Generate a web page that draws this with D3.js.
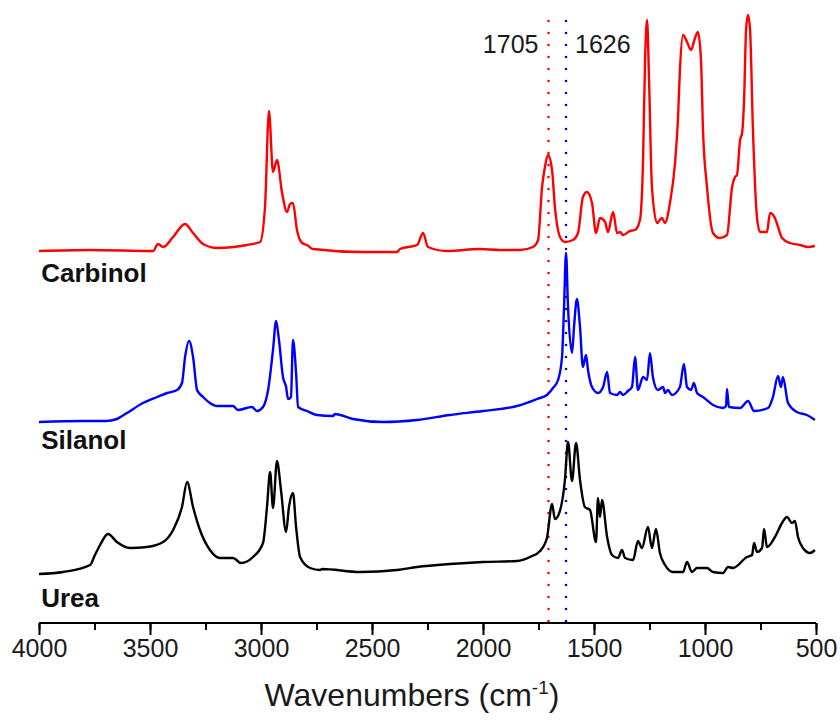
<!DOCTYPE html>
<html>
<head>
<meta charset="utf-8">
<script src="https://cdn.jsdelivr.net/npm/d3@7"></script>
<style>
  html, body { margin: 0; padding: 0; background: #fff; }
  svg { display: block; }
</style>
</head>
<body>
<div id="chart"></div>
<script>
// FTIR spectra, stacked with an offset. Values are absorbance (a.u.).
const names = ["Carbinol", "Silanol", "Urea"];
const colors = ["#ff0000", "#0000ff", "#000000"];
const offsets = [3.72, 2.0, 0.48];

const carbinolWn = [4000, 3770, 3486, 3464, 3441, 3396, 3342, 3306, 3261, 3198, 3063, 3004, 2982, 2964, 2946, 2928, 2905, 2883, 2869, 2856, 2838, 2815, 2793, 2766, 2541, 2387, 2374, 2297, 2270, 2248, 2162, 2014, 1923, 1833, 1775, 1752, 1734, 1721, 1707, 1689, 1676, 1653, 1631, 1595, 1572, 1550, 1532, 1509, 1491, 1473, 1450, 1437, 1414, 1396, 1383, 1369, 1338, 1315, 1293, 1279, 1270, 1261, 1252, 1239, 1216, 1194, 1180, 1158, 1135, 1122, 1113, 1099, 1081, 1063, 1045, 1032, 1018, 1009, 991, 964, 933, 901, 878, 865, 856, 842, 833, 824, 815, 806, 797, 784, 766, 752, 721, 707, 685, 671, 653, 617, 572, 536, 505];
const carbinolAbs = [0.00, 0.01, 0.00, 0.07, 0.04, 0.14, 0.27, 0.18, 0.07, 0.03, 0.06, 0.09, 0.44, 1.40, 0.79, 0.91, 0.58, 0.39, 0.47, 0.48, 0.21, 0.08, 0.06, 0.02, -0.01, -0.01, 0.02, 0.06, 0.18, 0.04, 0.00, 0.02, 0.01, 0.01, 0.04, 0.11, 0.64, 0.84, 0.96, 0.81, 0.44, 0.14, 0.09, 0.11, 0.18, 0.54, 0.59, 0.48, 0.18, 0.33, 0.29, 0.19, 0.39, 0.18, 0.19, 0.16, 0.20, 0.21, 0.31, 0.91, 1.91, 2.31, 1.71, 0.64, 0.28, 0.33, 0.28, 0.48, 0.88, 1.31, 1.81, 2.16, 2.09, 2.01, 2.13, 2.19, 1.91, 1.21, 0.64, 0.18, 0.13, 0.16, 0.64, 0.74, 0.76, 1.11, 1.18, 1.51, 2.21, 2.36, 2.21, 1.21, 0.34, 0.19, 0.19, 0.38, 0.33, 0.24, 0.13, 0.08, 0.06, 0.04, 0.05];

const silanolWn = [4000, 3800, 3700, 3649, 3604, 3532, 3468, 3423, 3378, 3356, 3342, 3324, 3306, 3288, 3261, 3230, 3198, 3126, 3104, 3041, 3018, 2991, 2968, 2946, 2932, 2919, 2901, 2887, 2878, 2865, 2856, 2842, 2833, 2793, 2748, 2676, 2667, 2586, 2450, 2297, 2149, 2000, 1847, 1757, 1712, 1685, 1662, 1644, 1635, 1626, 1617, 1599, 1590, 1577, 1563, 1550, 1536, 1527, 1509, 1482, 1459, 1441, 1428, 1396, 1383, 1369, 1347, 1329, 1315, 1302, 1279, 1261, 1248, 1234, 1212, 1189, 1180, 1167, 1149, 1113, 1095, 1081, 1063, 1050, 1036, 1009, 964, 919, 905, 901, 892, 842, 806, 779, 716, 694, 671, 658, 649, 626, 586, 541, 505];
const silanolAbs = [0.01, 0.02, 0.02, 0.04, 0.10, 0.20, 0.26, 0.30, 0.33, 0.40, 0.66, 0.82, 0.66, 0.33, 0.26, 0.20, 0.17, 0.17, 0.13, 0.16, 0.12, 0.16, 0.33, 0.73, 1.02, 0.83, 0.46, 0.36, 0.24, 0.26, 0.83, 0.50, 0.16, 0.12, 0.08, 0.07, 0.09, 0.04, 0.01, 0.03, 0.08, 0.12, 0.17, 0.24, 0.28, 0.35, 0.43, 0.66, 1.16, 1.70, 1.16, 0.70, 0.96, 1.24, 0.96, 0.56, 0.68, 0.53, 0.36, 0.30, 0.36, 0.51, 0.30, 0.28, 0.31, 0.28, 0.32, 0.36, 0.66, 0.33, 0.46, 0.43, 0.70, 0.45, 0.33, 0.36, 0.30, 0.33, 0.28, 0.36, 0.59, 0.36, 0.33, 0.40, 0.30, 0.26, 0.18, 0.15, 0.17, 0.34, 0.16, 0.15, 0.22, 0.12, 0.15, 0.26, 0.47, 0.36, 0.46, 0.20, 0.11, 0.08, 0.03];

const ureaWn = [4000, 3892, 3770, 3748, 3725, 3689, 3649, 3590, 3514, 3441, 3396, 3356, 3333, 3306, 3275, 3230, 3185, 3126, 3090, 3036, 2991, 2973, 2959, 2946, 2928, 2910, 2887, 2874, 2856, 2842, 2824, 2779, 2734, 2725, 2554, 2387, 2297, 2149, 2000, 1847, 1788, 1743, 1712, 1689, 1676, 1662, 1631, 1617, 1599, 1581, 1563, 1541, 1518, 1491, 1482, 1473, 1464, 1441, 1419, 1392, 1374, 1360, 1324, 1302, 1284, 1257, 1239, 1221, 1203, 1180, 1144, 1099, 1081, 1059, 1036, 991, 964, 919, 896, 874, 811, 788, 779, 766, 743, 734, 721, 685, 653, 631, 608, 595, 581, 559, 527, 505];
const ureaAbs = [0.01, 0.03, 0.10, 0.20, 0.30, 0.41, 0.33, 0.27, 0.28, 0.33, 0.45, 0.68, 0.93, 0.68, 0.45, 0.25, 0.17, 0.17, 0.12, 0.18, 0.32, 0.68, 1.03, 0.67, 1.14, 0.85, 0.43, 0.68, 0.82, 0.48, 0.18, 0.07, 0.05, 0.06, 0.03, 0.05, 0.08, 0.11, 0.13, 0.14, 0.18, 0.24, 0.37, 0.71, 0.56, 0.59, 0.95, 1.33, 0.94, 1.32, 0.95, 0.68, 0.65, 0.33, 0.77, 0.58, 0.75, 0.38, 0.20, 0.17, 0.25, 0.17, 0.15, 0.34, 0.27, 0.48, 0.27, 0.46, 0.22, 0.10, 0.03, 0.03, 0.13, 0.03, 0.07, 0.07, 0.03, 0.02, 0.08, 0.07, 0.18, 0.20, 0.32, 0.23, 0.27, 0.46, 0.28, 0.38, 0.52, 0.58, 0.52, 0.54, 0.38, 0.27, 0.22, 0.25];

const markers = [1705, 1626];
const markerColors = ["#ff0000", "#0000ff"];
const xTicks = [4000, 3500, 3000, 2500, 2000, 1500, 1000, 500];

const series = [
  { wn: carbinolWn, abs: carbinolAbs },
  { wn: silanolWn, abs: silanolAbs },
  { wn: ureaWn, abs: ureaAbs }
];

const width = 840;
const height = 720;
const margin = { top: 13, right: 24, bottom: 97, left: 39 };
const font = "'Liberation Sans', Arial, sans-serif";

const svg = d3.select("#chart").append("svg")
  .attr("width", width)
  .attr("height", height)
  .style("font-family", font);

const x = d3.scaleLinear()
  .domain([4000, 500])
  .range([margin.left, width - margin.right]);

const y = d3.scaleLinear()
  .domain([0, 6.1])
  .range([height - margin.bottom, margin.top]);

// dotted marker lines
markers.forEach((m, i) => {
  svg.append("line")
    .attr("x1", x(m))
    .attr("x2", x(m))
    .attr("y1", y(6.02))
    .attr("y2", y(0))
    .attr("stroke", markerColors[i])
    .attr("stroke-width", 2.6)
    .attr("stroke-dasharray", "0 12")
    .attr("stroke-linecap", "round");
});

svg.append("text")
  .attr("x", x(1705) - 10)
  .attr("y", 53)
  .attr("text-anchor", "end")
  .attr("fill", "#1a1a1a")
  .style("font-size", "25px")
  .text("1705");

svg.append("text")
  .attr("x", x(1626) + 9)
  .attr("y", 53)
  .attr("text-anchor", "start")
  .attr("fill", "#1a1a1a")
  .style("font-size", "25px")
  .text("1626");

const line = d3.line()
  .x(d => x(d[0]))
  .y(d => y(d[1]))
  .curve(d3.curveMonotoneX);

series.forEach((s, i) => {
  const pts = s.wn.map((w, k) => [w, s.abs[k] + offsets[i]]);
  svg.append("path")
    .datum(pts)
    .attr("fill", "none")
    .attr("stroke", colors[i])
    .attr("stroke-width", 2.4)
    .attr("stroke-linejoin", "round")
    .attr("d", line);
});

// trace names
const labelDrop = [0.31, 0.26, 0.32];
names.forEach((n, i) => {
  svg.append("text")
    .attr("x", x(3990))
    .attr("y", y(offsets[i] - labelDrop[i]))
    .attr("fill", "#111")
    .style("font-size", "26px")
    .style("font-weight", "bold")
    .text(n);
});

// x axis
const axisY = y(0);
const axis = svg.append("g")
  .attr("transform", `translate(0,${axisY})`);

axis.call(d3.axisBottom(x)
    .tickValues(d3.range(4000, 499, -250))
    .tickSize(7)
    .tickFormat(""))
  .call(g => g.select(".domain").remove())
  .call(g => g.selectAll("line").attr("stroke", "#000").attr("stroke-width", 2));

axis.append("g")
  .call(d3.axisBottom(x)
    .tickValues(xTicks)
    .tickSize(12)
    .tickPadding(4)
    .tickFormat(d3.format("d")))
  .call(g => g.select(".domain").attr("stroke", "#000").attr("stroke-width", 2).attr("d", `M${x(4000)},0H${x(500)}`))
  .call(g => g.selectAll("line").attr("stroke", "#000").attr("stroke-width", 2))
  .call(g => g.selectAll("text")
    .attr("fill", "#1a1a1a")
    .style("font-family", font)
    .style("font-size", "25px"));

const title = svg.append("text")
  .attr("x", x(2320))
  .attr("y", 706)
  .attr("text-anchor", "middle")
  .attr("fill", "#1a1a1a")
  .style("font-size", "32px");
title.append("tspan").text("Wavenumbers (cm");
title.append("tspan")
  .attr("dy", -12)
  .style("font-size", "19px")
  .text("-1");
title.append("tspan")
  .attr("dy", 12)
  .text(")");
</script>
</body>
</html>
